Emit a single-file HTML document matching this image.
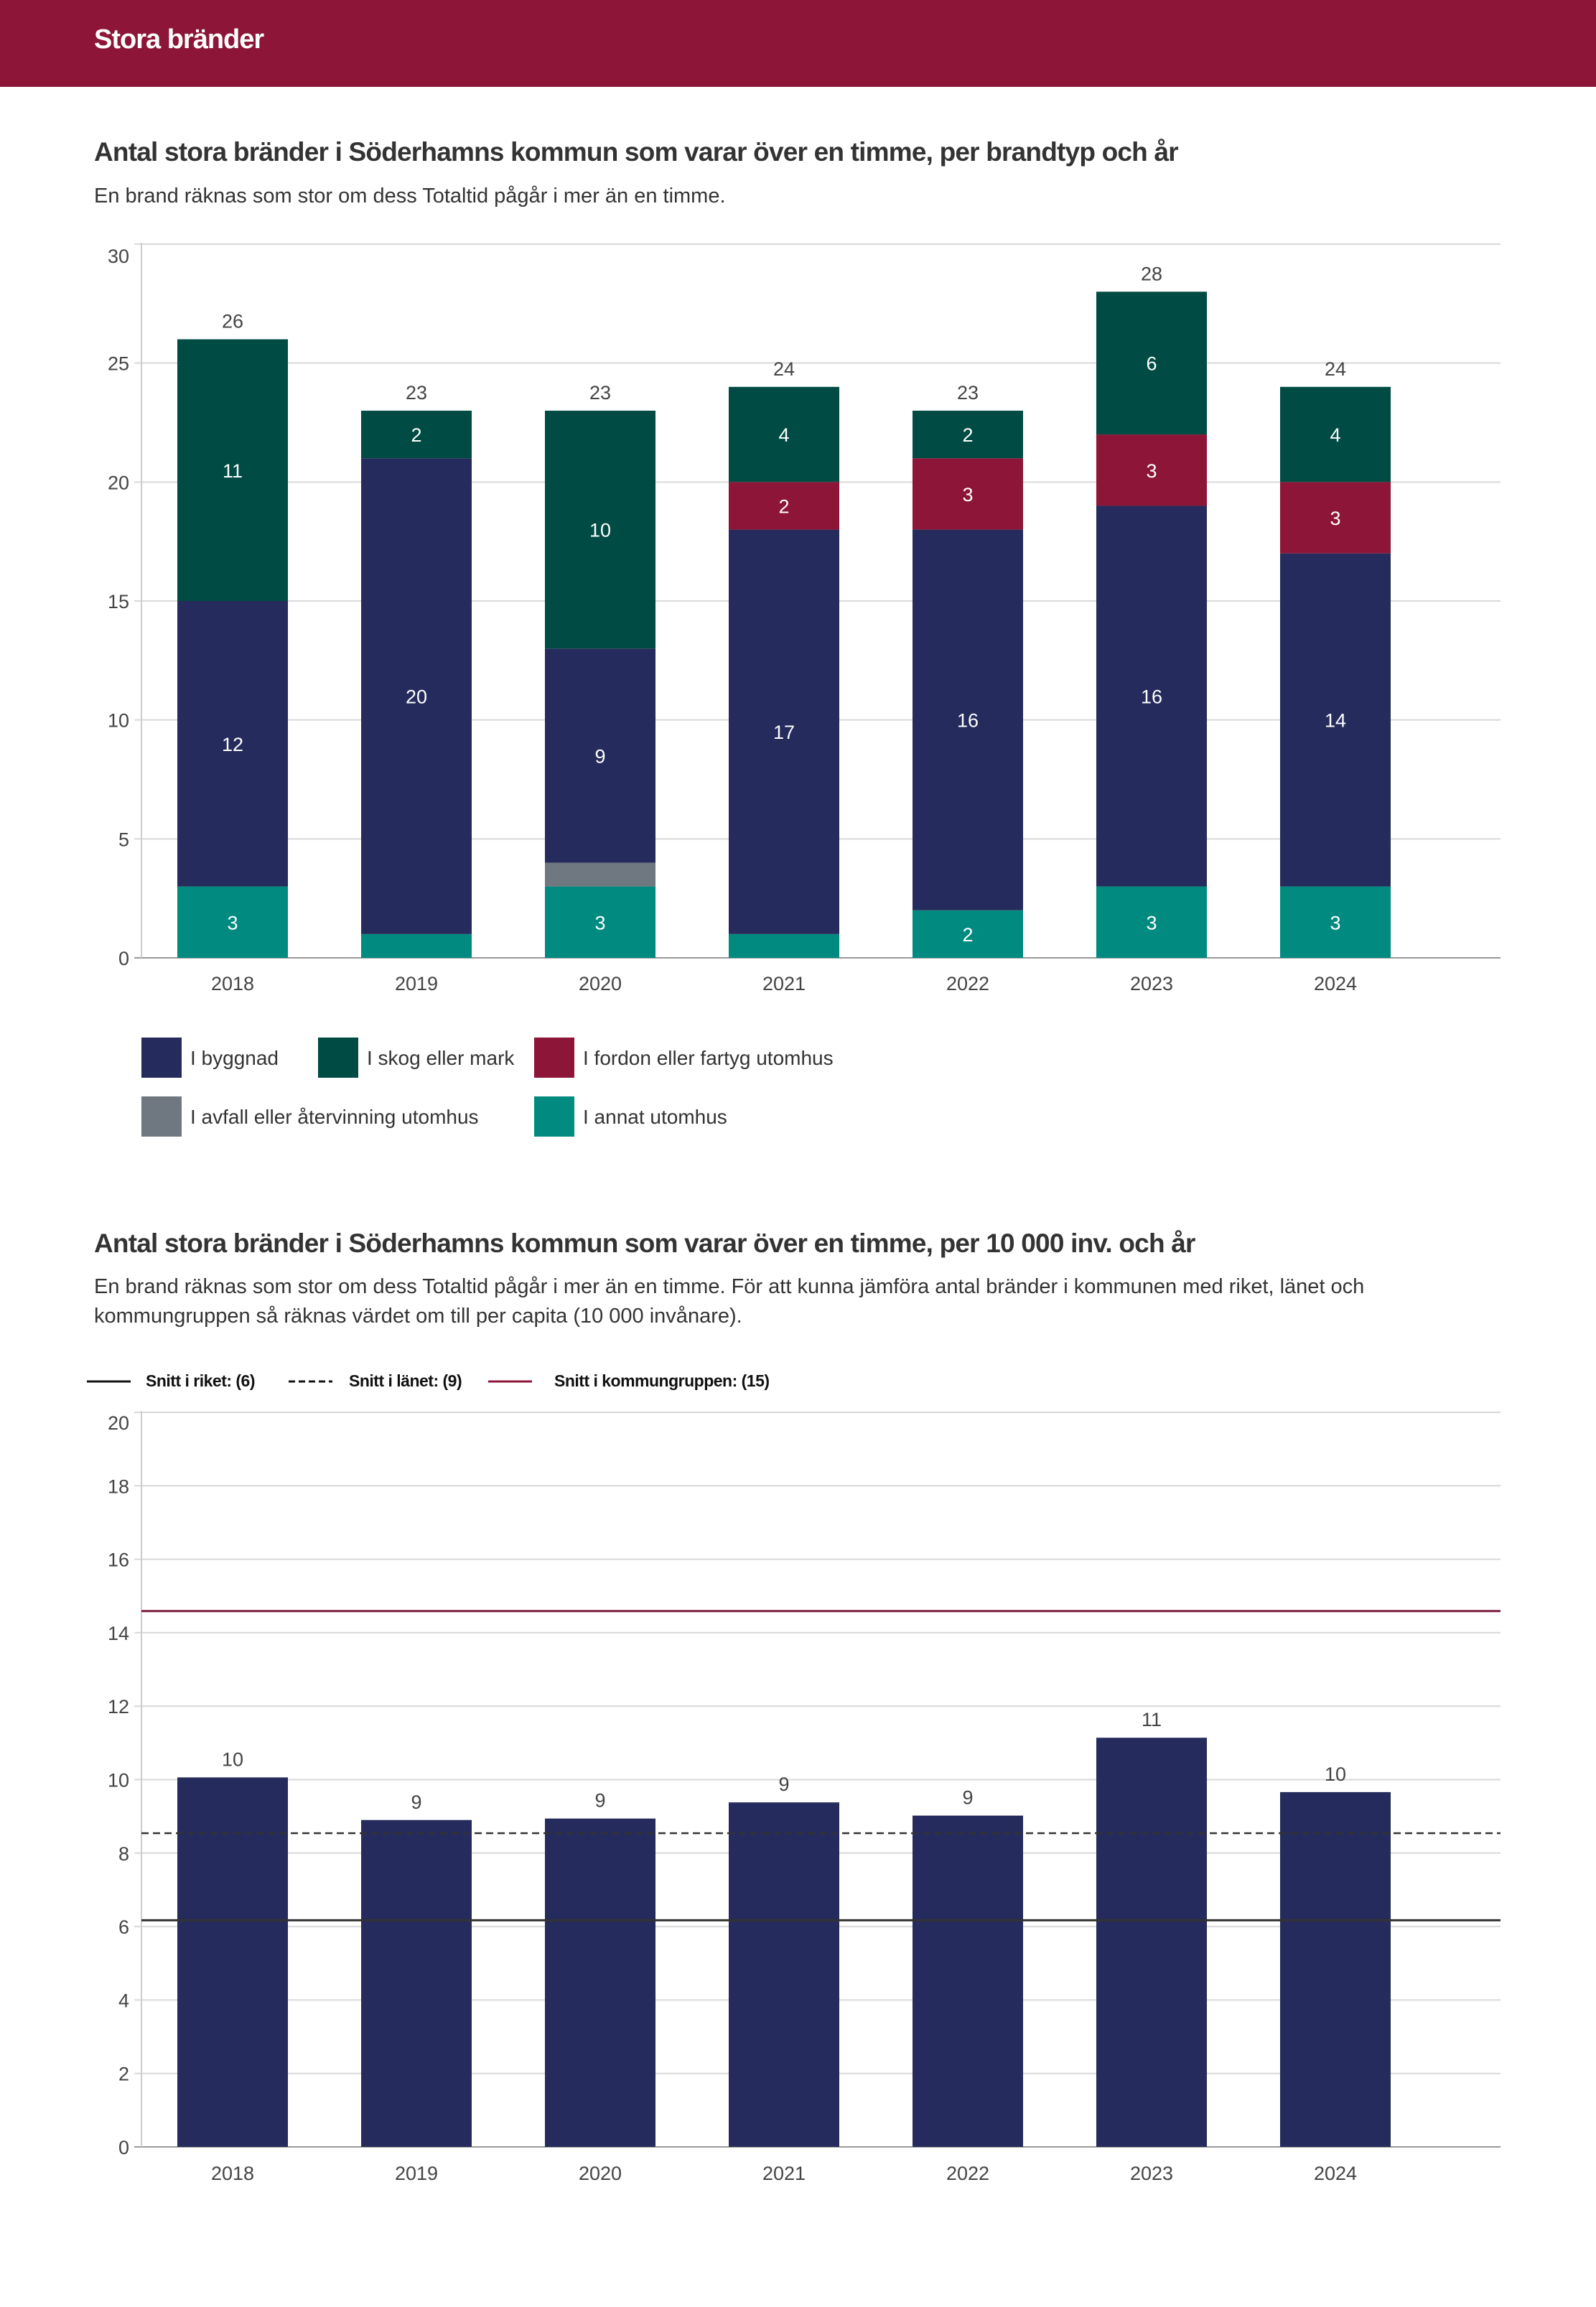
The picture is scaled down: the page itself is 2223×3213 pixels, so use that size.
<!DOCTYPE html>
<html><head><meta charset="utf-8">
<style>
html,body{margin:0;padding:0;background:#fff;}
body{width:2223px;height:3213px;position:relative;overflow:hidden;font-family:"Liberation Sans",sans-serif;color:#333;}
.hdr{position:absolute;left:0;top:0;width:2223px;height:121px;background:#8c1538;}
.hdr span{position:absolute;left:131px;top:34px;font-size:38px;font-weight:bold;color:#fff;letter-spacing:-1px;}
.t{position:absolute;left:131px;font-size:37px;font-weight:bold;color:#333;letter-spacing:-0.8px;white-space:nowrap;}
.s{position:absolute;left:131px;font-size:29px;color:#333;line-height:41px;white-space:nowrap;}
svg{position:absolute;left:0;top:0;}
</style></head><body>
<div class="hdr"><span>Stora bränder</span></div>
<div class="t" style="top:191px">Antal stora bränder i Söderhamns kommun som varar över en timme, per brandtyp och år</div>
<div class="s" style="top:253px">En brand räknas som stor om dess Totaltid pågår i mer än en timme.</div>
<div class="t" style="top:1711px">Antal stora bränder i Söderhamns kommun som varar över en timme, per 10 000 inv. och år</div>
<div class="s" style="top:1772px">En brand räknas som stor om dess Totaltid pågår i mer än en timme. För att kunna jämföra antal bränder i kommunen med riket, länet och<br>kommungruppen så räknas värdet om till per capita (10 000 invånare).</div>
<svg id="c" width="2223" height="3213"></svg>
<script>
const years = ["2018","2019","2020","2021","2022","2023","2024"];
const annat = [3,1,3,1,2,3,3];
const avfall = [0,0,1,0,0,0,0];
const byggnad = [12,20,9,17,16,16,14];
const fordon = [0,0,0,2,3,3,3];
const skog = [11,2,10,4,2,6,4];
const ticks1 = [0,5,10,15,20,25,30];
const perCapita = [10.06,8.9,8.94,9.38,9.02,11.14,9.66];
const perCapitaLabels = ["10","9","9","9","9","11","10"];
const ticks2 = [0,2,4,6,8,10,12,14,16,18,20];
const snittRiket = 6.17;
const snittLanet = 8.54;
const snittGrupp = 14.59;

const NS="http://www.w3.org/2000/svg";
const svg=document.getElementById('c');
function mk(tag,attrs,parent){const e=document.createElementNS(NS,tag);for(const k in attrs)e.setAttribute(k,attrs[k]);(parent||svg).appendChild(e);return e;}
function txt(s,attrs){const e=mk('text',Object.assign({'font-family':'Liberation Sans, sans-serif'},attrs));e.textContent=s;return e;}

const L=197,R=2090,step=256,first=324,bw=154;
const xc=i=>first+i*step;
// chart 1
const y1=v=>1334-v*(994/30);
const max1=ticks1[ticks1.length-1];
ticks1.forEach(t=>{
  const g=mk('line',{x1:L-10,x2:R,y1:y1(t),y2:y1(t),stroke:t===0?'#999':'#d9d9d9','stroke-width':2});
  
  
  const l=txt(String(t),{x:180,y:y1(t)+(t===max1?26:10),'text-anchor':'end','font-size':27,fill:'#444'});
  
  
});
const ax1=mk('line',{x1:L,x2:L,y1:y1(30)-2,y2:y1(0),stroke:'#ccc','stroke-width':2});


const series=[[annat,'#008a80','annat'],[avfall,'#6f7780','avfall'],[byggnad,'#252b5c','byggnad'],[fordon,'#8c1538','fordon'],[skog,'#004b44','skog']];
years.forEach((yr,i)=>{
  let base=0;
  series.forEach(([arr,col,nm])=>{
    const v=arr[i]; if(!v)return;
    const r=mk('rect',{x:xc(i)-bw/2,y:y1(base+v),width:bw,height:y1(base)-y1(base+v),fill:col});
    
    
    if(v>=2){const t=txt(String(v),{x:xc(i),y:(y1(base)+y1(base+v))/2+10,'text-anchor':'middle','font-size':27,fill:'#fff'});
      
      }
    base+=v;
  });
  const tl=txt(String(base),{x:xc(i),y:y1(base)-16,'text-anchor':'middle','font-size':27,fill:'#444'});
  
  
  const xl=txt(yr,{x:xc(i),y:1379,'text-anchor':'middle','font-size':27,fill:'#444'});
  
  
});
// legend 1
const leg=[[197,1445,'#252b5c','I byggnad'],[443,1445,'#004b44','I skog eller mark'],[744,1445,'#8c1538','I fordon eller fartyg utomhus'],[197,1527,'#6f7780','I avfall eller återvinning utomhus'],[744,1527,'#008a80','I annat utomhus']];
leg.forEach(([x,y,c,s])=>{
  const r=mk('rect',{x:x,y:y,width:56,height:56,fill:c});
  
  
  const t=txt(s,{x:x+68,y:y+38,'font-size':28,fill:'#333'});
  
  
});
// chart 2
const y2=v=>2990-v*(1023/20);
const max2=ticks2[ticks2.length-1];
ticks2.forEach(t=>{
  const g=mk('line',{x1:L-10,x2:R,y1:y2(t),y2:y2(t),stroke:t===0?'#999':'#d9d9d9','stroke-width':2});
  
  
  const l=txt(String(t),{x:180,y:y2(t)+(t===max2?24:10),'text-anchor':'end','font-size':27,fill:'#444'});
  
  
});
const ax2=mk('line',{x1:L,x2:L,y1:y2(20)-2,y2:y2(0),stroke:'#ccc','stroke-width':2});


years.forEach((yr,i)=>{
  const r=mk('rect',{x:xc(i)-bw/2,y:y2(perCapita[i]),width:bw,height:y2(0)-y2(perCapita[i]),fill:'#252b5c'});
  
  
  const t=txt(perCapitaLabels[i],{x:xc(i),y:y2(perCapita[i])-16,'text-anchor':'middle','font-size':27,fill:'#444'});
  
  
  const xl=txt(yr,{x:xc(i),y:3036,'text-anchor':'middle','font-size':27,fill:'#444'});
  
  
});
const lr=mk('line',{x1:L,x2:R,y1:y2(snittRiket),y2:y2(snittRiket),stroke:'#333','stroke-width':3});


const ll=mk('line',{x1:L,x2:R,y1:y2(snittLanet),y2:y2(snittLanet),stroke:'#333','stroke-width':2.5,'stroke-dasharray':'10,6'});


const lg=mk('line',{x1:L,x2:R,y1:y2(snittGrupp),y2:y2(snittGrupp),stroke:'#7a1f3d','stroke-width':3});


// legend 2
const leg2=[[121,'#111',null,'Snitt i riket: (6)',203],[402,'#111','9,5','Snitt i länet: (9)',486],[680,'#8c1538',null,'Snitt i kommungruppen: (15)',772]];
leg2.forEach(([x,c,d,s,tx])=>{
  const a={x1:x,x2:x+61,y1:1924,y2:1924,stroke:c,'stroke-width':3};
  if(d)a['stroke-dasharray']=d;
  const l=mk('line',a);
  
  
  const t=txt(s,{x:tx,y:1931,'font-size':23,'font-weight':'bold',fill:'#111','letter-spacing':'-0.5'});
  
  
});
</script>
</body></html>
